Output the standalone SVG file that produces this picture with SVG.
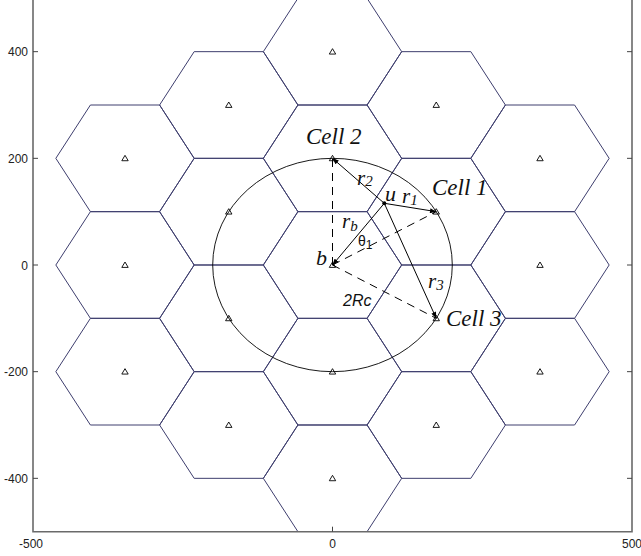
<svg xmlns="http://www.w3.org/2000/svg" xmlns:xlink="http://www.w3.org/1999/xlink" width="641" height="556" viewBox="0 0 641 556">
<style>
.hex{fill:none;stroke:#3e3e6e;stroke-width:1}
.mk{fill:none;stroke:#000;stroke-width:0.9}
.ax{fill:none;stroke:#6a6a6a;stroke-width:1.6}
.tk{stroke:#444;stroke-width:1}
.tl{font-family:"Liberation Sans",Arial,sans-serif;font-size:12px;fill:#222}
.ln{fill:none;stroke:#000;stroke-width:1}
.ds{fill:none;stroke:#000;stroke-width:1;stroke-dasharray:8,6}
.it{font-family:"Liberation Serif","Times New Roman",serif;font-style:italic;fill:#111}
.sn{font-family:"Liberation Sans",Arial,sans-serif;fill:#111}
</style>
<defs>
<polygon id="hex" class="hex" points="-69.17,0 -34.58,-53.33 34.58,-53.33 69.17,0 34.58,53.33 -34.58,53.33"/>
<path id="tri" class="mk" d="M-3.2,2.4 L3.2,2.4 L0,-3 Z"/>
<clipPath id="plot"><rect x="33" y="-2" width="599" height="533.7"/></clipPath>
<marker id="arr" viewBox="0 0 10 8" refX="10" refY="4" markerWidth="7" markerHeight="5" markerUnits="userSpaceOnUse" orient="auto">
<path d="M0,0 L10,4 L0,8 Z" fill="#000"/>
</marker>
</defs>
<rect width="641" height="556" fill="#fff"/>
<g id="cells" clip-path="url(#plot)">
<g id="cell-b"><use xlink:href="#hex" x="332.5" y="265"/><use xlink:href="#tri" x="332.5" y="265"/></g>
<g id="cell-2"><use xlink:href="#hex" x="332.5" y="158.33"/><use xlink:href="#tri" x="332.5" y="158.33"/></g>
<g id="cell-s"><use xlink:href="#hex" x="332.5" y="371.67"/><use xlink:href="#tri" x="332.5" y="371.67"/></g>
<g id="cell-1"><use xlink:href="#hex" x="436.25" y="211.67"/><use xlink:href="#tri" x="436.25" y="211.67"/></g>
<g id="cell-3"><use xlink:href="#hex" x="436.25" y="318.33"/><use xlink:href="#tri" x="436.25" y="318.33"/></g>
<g id="cell-nw"><use xlink:href="#hex" x="228.75" y="211.67"/><use xlink:href="#tri" x="228.75" y="211.67"/></g>
<g id="cell-sw"><use xlink:href="#hex" x="228.75" y="318.33"/><use xlink:href="#tri" x="228.75" y="318.33"/></g>
<g id="cell-n2"><use xlink:href="#hex" x="332.5" y="51.67"/><use xlink:href="#tri" x="332.5" y="51.67"/></g>
<g id="cell-s2"><use xlink:href="#hex" x="332.5" y="478.33"/><use xlink:href="#tri" x="332.5" y="478.33"/></g>
<g id="cell-ne2"><use xlink:href="#hex" x="436.25" y="105"/><use xlink:href="#tri" x="436.25" y="105"/></g>
<g id="cell-se2"><use xlink:href="#hex" x="436.25" y="425"/><use xlink:href="#tri" x="436.25" y="425"/></g>
<g id="cell-nw2"><use xlink:href="#hex" x="228.75" y="105"/><use xlink:href="#tri" x="228.75" y="105"/></g>
<g id="cell-sw2"><use xlink:href="#hex" x="228.75" y="425"/><use xlink:href="#tri" x="228.75" y="425"/></g>
<g id="cell-e2"><use xlink:href="#hex" x="540" y="265"/><use xlink:href="#tri" x="540" y="265"/></g>
<g id="cell-w2"><use xlink:href="#hex" x="125" y="265"/><use xlink:href="#tri" x="125" y="265"/></g>
<g id="cell-ene2"><use xlink:href="#hex" x="540" y="158.33"/><use xlink:href="#tri" x="540" y="158.33"/></g>
<g id="cell-ese2"><use xlink:href="#hex" x="540" y="371.67"/><use xlink:href="#tri" x="540" y="371.67"/></g>
<g id="cell-wnw2"><use xlink:href="#hex" x="125" y="158.33"/><use xlink:href="#tri" x="125" y="158.33"/></g>
<g id="cell-wsw2"><use xlink:href="#hex" x="125" y="371.67"/><use xlink:href="#tri" x="125" y="371.67"/></g>
</g>
<g id="axes">
<path class="ax" d="M33,-2 V531.7 H632 V-2"/>
<path class="tk" d="M33,51.67h5M33,158.33h5M33,265h5M33,371.67h5M33,478.33h5M632,51.67h-5M632,158.33h-5M632,265h-5M632,371.67h-5M632,478.33h-5M332.5,531.7v-5"/>
<g class="tl" text-anchor="end">
<text x="28" y="56">400</text>
<text x="28" y="162.5">200</text>
<text x="28" y="269.5">0</text>
<text x="28" y="376">-200</text>
<text x="28" y="482.5">-400</text>
</g>
<g class="tl" text-anchor="middle">
<text x="31" y="548">-500</text>
<text x="332.5" y="548">0</text>
<text x="632" y="548">500</text>
</g>
</g>
<g id="coverage">
<ellipse cx="332.5" cy="265" rx="119.8" ry="106.67" fill="none" stroke="#000" stroke-width="0.9"/>
</g>
<g id="connectors">
<line class="ds" x1="332.5" y1="265" x2="332.5" y2="158.33"/>
<line class="ds" x1="332.5" y1="265" x2="436.25" y2="211.67" stroke-dasharray="5,9"/>
<line class="ds" x1="332.5" y1="265" x2="436.25" y2="318.33"/>
<line class="ln" x1="384.3" y1="203.3" x2="332.5" y2="265" marker-end="url(#arr)"/>
<line class="ln" x1="384.3" y1="203.3" x2="332.5" y2="158.33" marker-end="url(#arr)"/>
<line class="ln" x1="384.3" y1="203.3" x2="436.25" y2="211.67" marker-end="url(#arr)"/>
<line class="ln" x1="384.3" y1="203.3" x2="436.25" y2="318.33" marker-end="url(#arr)"/>
<circle cx="384.3" cy="203.3" r="2" fill="#000"/>
</g>
<g id="labels">
<text class="it" x="306" y="144" font-size="23">Cell 2</text>
<text class="it" x="432" y="195" font-size="23">Cell 1</text>
<text class="it" x="446" y="326" font-size="23">Cell 3</text>
<text class="it" x="385" y="201" font-size="22">u</text>
<text class="it" x="316" y="265" font-size="22">b</text>
<text class="it" x="402" y="203" font-size="21">r<tspan font-size="15" dy="2">1</tspan></text>
<text class="it" x="357" y="185" font-size="21">r<tspan font-size="15" dy="1">2</tspan></text>
<text class="it" x="342" y="228" font-size="21">r<tspan font-size="15" dy="3">b</tspan></text>
<text class="it" x="428" y="288" font-size="21">r<tspan font-size="15" dy="2">3</tspan></text>
<text class="sn" x="358" y="246" font-size="14">θ<tspan font-size="12" dy="3">1</tspan></text>
<text class="sn" x="343" y="306" font-size="16" font-style="italic">2Rc</text>
</g>
</svg>
